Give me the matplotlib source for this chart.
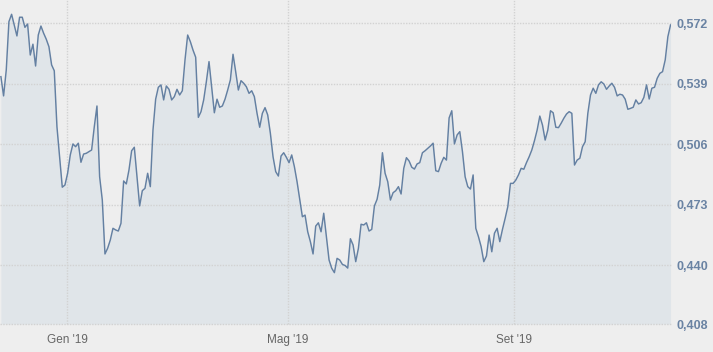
import numpy as np
import pandas as pd
import matplotlib
matplotlib.use('Agg')
import matplotlib.pyplot as plt

plt.rcParams['font.family'] = ['Liberation Sans', 'DejaVu Sans']

start = '2018-11-26'
end = '2019-11-25'

values = [
    0.5429, 0.5324, 0.5465, 0.5729, 0.5769, 0.5711, 0.5651, 0.5753, 0.5753, 0.5698,
    0.5716, 0.5547, 0.5606, 0.5487, 0.5656, 0.5705, 0.5666, 0.5633, 0.5592, 0.5493,
    0.5461, 0.5156, 0.4992, 0.4826, 0.4838, 0.4902, 0.5002, 0.5062, 0.5047, 0.5066,
    0.4962, 0.5007, 0.5011, 0.5020, 0.5029, 0.5156, 0.5269, 0.4883, 0.4756, 0.4462,
    0.4493, 0.4538, 0.4602,
    0.4593, 0.4587, 0.4629, 0.4860, 0.4844, 0.4920, 0.5025, 0.5044, 0.4883, 0.4724,
    0.4807, 0.4820, 0.4902, 0.4829, 0.5138, 0.5306, 0.5371, 0.5384, 0.5302, 0.5378,
    0.5360, 0.5302, 0.5320, 0.5360, 0.5329, 0.5352, 0.5520, 0.5656, 0.5620, 0.5574,
    0.5535, 0.5207, 0.5238, 0.5302, 0.5401, 0.5511, 0.5374, 0.5232, 0.5306, 0.5262,
    0.5269, 0.5306,
    0.5356, 0.5411, 0.5551, 0.5456, 0.5356, 0.5407, 0.5393, 0.5374, 0.5338, 0.5352,
    0.5320, 0.5229, 0.5153, 0.5229, 0.5260, 0.5220, 0.5120, 0.4992, 0.4911, 0.4887,
    0.4996, 0.5014, 0.4989, 0.4960, 0.5002, 0.4938, 0.4856, 0.4760, 0.4665, 0.4674,
    0.4583, 0.4529, 0.4462, 0.4614, 0.4632, 0.4583, 0.4684, 0.4556, 0.4429, 0.4384,
    0.4360, 0.4438,
    0.4429, 0.4405, 0.4399, 0.4385, 0.4545, 0.4511, 0.4420, 0.4493, 0.4624, 0.4620,
    0.4632, 0.4587, 0.4596, 0.4724, 0.4760, 0.4838, 0.5014, 0.4902, 0.4856, 0.4756,
    0.4796, 0.4807, 0.4829, 0.4789, 0.4929, 0.4987, 0.4969, 0.4935, 0.4925, 0.4953,
    0.4960, 0.5014, 0.5025, 0.5038, 0.5051, 0.5066, 0.4916, 0.4911, 0.4956, 0.4989,
    0.4974, 0.5204, 0.5243,
    0.5062, 0.5111, 0.5129, 0.5020, 0.4883, 0.4829, 0.4816, 0.4893, 0.4602, 0.4556,
    0.4502, 0.4420, 0.4451, 0.4565, 0.4474, 0.4575, 0.4602, 0.4529, 0.4596, 0.4656,
    0.4720, 0.4847, 0.4847, 0.4865, 0.4893, 0.4929, 0.4924, 0.4960, 0.4992, 0.5029,
    0.5080, 0.5138, 0.5214, 0.5165, 0.5083, 0.5138, 0.5243, 0.5232, 0.5153, 0.5151,
    0.5175,
    0.5202, 0.5225, 0.5238, 0.5229, 0.4947, 0.4974, 0.4984, 0.5047, 0.5074, 0.5229,
    0.5329, 0.5366, 0.5338, 0.5384, 0.5401, 0.5389, 0.5360, 0.5378, 0.5393, 0.5371,
    0.5324, 0.5333, 0.5329, 0.5306, 0.5251, 0.5256, 0.5262, 0.5302, 0.5280, 0.5287,
    0.5316, 0.5384, 0.5307, 0.5366, 0.5371, 0.5420, 0.5447, 0.5456, 0.5520, 0.5647,
    0.5711,
]

# one observation per trading session, evenly spread over the year shown
dates = pd.date_range(start, end, periods=len(values))
values = np.array(values)

tick_dates = pd.to_datetime(['2019-01-01', '2019-05-01', '2019-09-01'])
tick_labels = ["Gen '19", "Mag '19", "Set '19"]
y_ticks = [0.408, 0.440, 0.473, 0.506, 0.539, 0.572]
y_labels = ['0,408', '0,440', '0,473', '0,506', '0,539', '0,572']

W, H = 713, 352
fig = plt.figure(figsize=(W / 100, H / 100), dpi=100)
fig.patch.set_facecolor('#eeeeee')
ax = fig.add_axes([0, 28 / H, 671 / W, 324 / H])
ax.set_facecolor('#eeeeee')

base = 0.408
ax.fill_between(dates, values, base, color='#e0e5e9', lw=0, zorder=1)
ax.plot(dates, values, color='#6480a2', lw=1.05, zorder=3)

ax.set_xlim(pd.Timestamp('2018-11-25 12:00'), pd.Timestamp('2019-11-25 06:00'))
ax.set_ylim(base, 0.5847)

ax.set_xticks(tick_dates)
ax.set_xticklabels(tick_labels, color='#666666', fontsize=8.5)
ax.set_yticks(y_ticks)
ax.set_yticklabels(y_labels, color='#6a83a3', fontsize=9, fontweight='bold')
ax.yaxis.tick_right()
ax.tick_params(axis='y', length=0, pad=4)
ax.tick_params(axis='x', length=0, pad=7)

for s in ax.spines.values():
    s.set_visible(False)
ax.set_axisbelow(False)
ax.grid(True, color='#d2d2d2', lw=1, linestyle=(0, (1, 1)), zorder=2)
for gl in ax.get_xgridlines() + ax.get_ygridlines():
    gl.set_clip_on(False)

fig.savefig('out.png', dpi=100, facecolor=fig.get_facecolor())
